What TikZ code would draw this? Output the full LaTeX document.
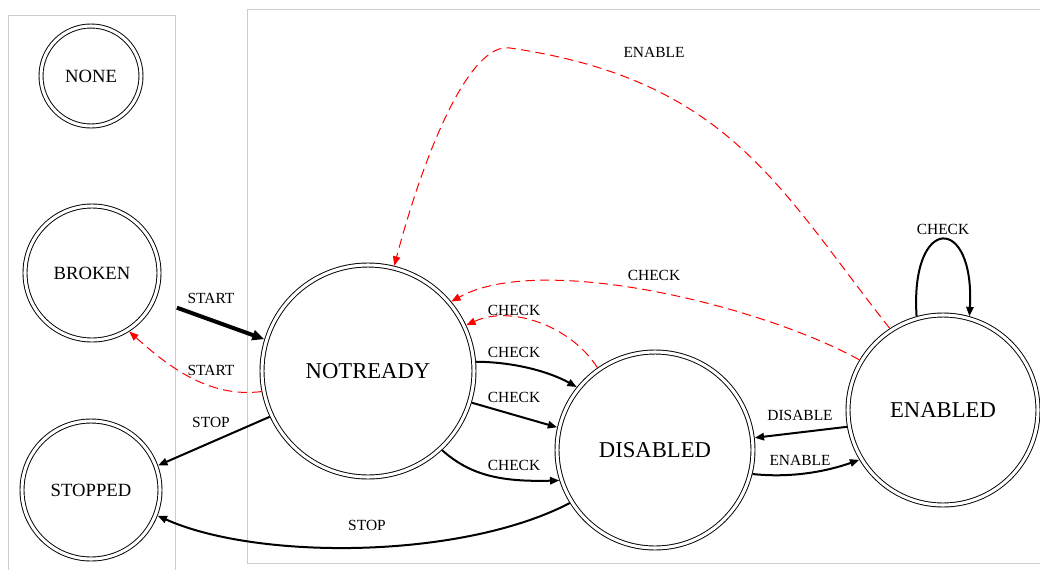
\documentclass[tikz,border=0pt]{standalone}
\usepackage{fontspec}
\setmainfont{Liberation Serif}
\usepackage{tikz}
\usetikzlibrary{arrows.meta}
\definecolor{boxgray}{rgb}{0.8,0.8,0.8}
\tikzset{
    state/.style={
    circle,draw=black,double,double distance=2.3pt,line width=0.7pt,inner sep=0pt,font=\fontsize{14}{16}\selectfont
    },
    bigstate/.style={
    state,font=\fontsize{17}{20}\selectfont
    },
    cluster/.style={draw=boxgray, line width=0.75pt},
  line/.style={draw, line width=1.5pt, ->, shorten >=1.5pt, shorten <=1.5pt},
  thickline/.style={line, line width=3pt, -{Triangle[length=9pt,width=7.5pt]}},
  redline/.style={draw=red, line width=0.75pt, dash pattern=on 7pt off 4pt, ->, shorten >=1.5pt, shorten <=1.5pt},
  lbl/.style={font=\fontsize{11.6}{13}\selectfont, inner sep=1pt}
}
\begin{document}
\begin{tikzpicture}[x=0.75pt,y=-0.75pt,>={Triangle[length=7pt,width=5.5pt]}]
    \useasboundingbox (0,0) rectangle (1040,569);
    \clip (0,0) rectangle (1040,569);
    \draw[cluster] (8,580) -- (8,15) -- (175,15) -- (175,580);
    \draw[cluster] (1050,9) -- (247,9) -- (247,563) -- (1050,563);

    \node[state,minimum size=75pt] (none) at (91,76) {NONE};
    \node[state,minimum size=100.5pt] (broken) at (92,273) {BROKEN};
    \node[state,minimum size=103.5pt] (stopped) at (91,490) {STOPPED};
    \node[bigstate,minimum size=159pt] (notready) at (368,371) {NOTREADY};
    \node[bigstate,minimum size=147pt] (disabled) at (655,450) {DISABLED};
    \node[bigstate,minimum size=142.5pt] (enabled) at (943,410) {ENABLED};

    \coordinate (brokenout) at (175,307);

    \node[lbl] (lstart) at (211,298) {START};
    \node[lbl] (lstartback) at (211,370) {START};
    \node[lbl] (lstop) at (211,422) {STOP};
    \node[lbl] (lstopdis) at (367,525) {STOP};
    \node[lbl] (lcheckup) at (514,352) {CHECK};
    \node[lbl] (lcheckmid) at (514,397) {CHECK};
    \node[lbl] (lchecklow) at (514,465) {CHECK};
    \node[lbl] (lcheckdis) at (514,310) {CHECK};
    \node[lbl] (lcheckena) at (654,275) {CHECK};
    \node[lbl] (lenable) at (654,52) {ENABLE};
    \node[lbl] (ldisable) at (800,415) {DISABLE};
    \node[lbl] (lenabletwo) at (800,460) {ENABLE};
    \node[lbl] (lcheckloop) at (943,229) {CHECK};

    \draw[thickline] (brokenout) -- (notready.163);
    \draw[line] (notready.205) -- (stopped.20);
    \draw[line] (disabled.212) .. controls (460,560) and (256,560) .. (stopped.-21);
    \draw[line] (notready.5) .. controls (515,362) and (550,372) .. (disabled.141);
    \draw[line] (notready.-17) -- (disabled.167);
    \draw[line] (notready.-47) .. controls (470,475) and (500,482) .. (disabled.198);
    \draw[line] (enabled.190) -- (disabled.7);
    \draw[line] (disabled.-14) .. controls (790,478) and (825,472) .. (enabled.211);
    \draw[line] (enabled.106) .. controls (910,214) and (975,214) .. (enabled.74);

    \draw[redline] (notready.191) .. controls (210,398) and (170,368) .. (broken.-58);
    \draw[redline] (disabled.125) .. controls (570,325) and (510,305) .. (notready.25);
    \draw[redline] (enabled.149) .. controls (760,305) and (540,252) .. (notready.40);
    \draw[redline] (enabled.123) .. controls (780,190) and (730,80) .. (510,48)
        .. controls (470,42) and (425,150) .. (notready.76);
\end{tikzpicture}
\end{document}
